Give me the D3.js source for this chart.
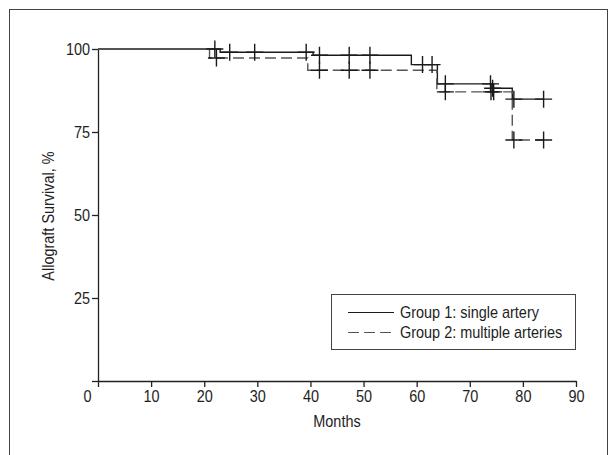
<!DOCTYPE html>
<html>
<head>
<meta charset="utf-8">
<script src="https://cdn.jsdelivr.net/npm/d3@7"></script>
<style>
  body { margin: 0; background: #fff; }
  svg text { font-family: "Liberation Sans", Arial, sans-serif; fill: #1e1e1e; }
</style>
</head>
<body>
<div id="chart"></div>
<script>
/** step data (months, % survival) */
var g1Months = [0, 23, 40.5, 59, 63.9, 74.2, 78, 83.9];
var g1Surv   = [100, 99.0, 98.1, 95.3, 89.5, 88.2, 84.9, 84.9];
var g2Months = [0, 21, 39.5, 63.8, 78, 83.9];
var g2Surv   = [100, 97.3, 93.6, 87.1, 72.6, 72.6];

/** censored observations (months) */
var g1Censor = [22.0, 24.8, 29.5, 39.2, 41.7, 47.3, 51.2, 61.1, 62.9, 65.4, 73.9, 74.3, 78.3, 83.9];
var g2Censor = [22.3, 41.7, 47.3, 51.2, 65.4, 74.0, 74.5, 78.3, 83.9];

var xTicks = [0, 10, 20, 30, 40, 50, 60, 70, 80, 90];
var yTicks = [0, 25, 50, 75, 100];
var seriesNames = ["Group 1: single artery", "Group 2: multiple arteries"];

var W = 611, H = 455;
var fs = 17;

var svg = d3.select("#chart").append("svg")
  .attr("width", W)
  .attr("height", H);

/** outer frame */
svg.append("rect")
  .attr("x", 9.5).attr("y", 9.5)
  .attr("width", 598).attr("height", 470)
  .attr("fill", "none")
  .attr("stroke", "#444")
  .attr("stroke-width", 1);

var x = d3.scaleLinear().domain([0, 90]).range([98, 576]);
var y = d3.scaleLinear().domain([0, 100]).range([381, 49]);

/** x axis */
var gx = svg.append("g")
  .attr("transform", "translate(0," + y(0) + ")")
  .call(d3.axisBottom(x).tickValues(xTicks).tickSize(6).tickSizeOuter(0));
gx.select(".domain").attr("stroke", "#222").attr("stroke-width", 1.3);
gx.selectAll(".tick line").attr("stroke", "#222").attr("stroke-width", 1.3);
gx.selectAll(".tick text")
  .attr("font-size", fs)
  .attr("y", 9)
  .attr("dx", function(d) { return d === 0 ? -11 : 0; });

/** y axis */
var gy = svg.append("g")
  .attr("transform", "translate(" + x(0) + ",0)")
  .call(d3.axisLeft(y).tickValues(yTicks).tickSize(6).tickSizeOuter(0)
    .tickFormat(function(d) { return d === 0 ? "" : d; }));
gy.select(".domain").attr("stroke", "#222").attr("stroke-width", 1.3);
gy.selectAll(".tick line").attr("stroke", "#222").attr("stroke-width", 1.3);
gy.selectAll(".tick text").attr("font-size", fs).attr("x", -8);

/** axis titles */
svg.append("text")
  .attr("x", (x(0) + x(90)) / 2)
  .attr("y", 427)
  .attr("text-anchor", "middle")
  .attr("font-size", fs)
  .text("Months");

svg.append("text")
  .attr("transform", "translate(54," + 216 + ") rotate(-90)")
  .attr("text-anchor", "middle")
  .attr("font-size", fs)
  .text("Allograft Survival, %");

/** survival curves */
var line = d3.line()
  .x(function(d) { return x(d[0]); })
  .y(function(d) { return y(d[1]); })
  .curve(d3.curveStepAfter);

function survAt(months, surv, t) {
  var i = d3.bisectRight(months, t) - 1;
  return surv[Math.max(0, i)];
}

var groups = [
  {months: g1Months, surv: g1Surv, censor: g1Censor, dash: null, colour: "#1a1a1a"},
  {months: g2Months, surv: g2Surv, censor: g2Censor, dash: "11,5", colour: "#555"}
];

groups.forEach(function(g) {
  svg.append("path")
    .datum(d3.zip(g.months, g.surv))
    .attr("d", line)
    .attr("fill", "none")
    .attr("stroke", g.colour)
    .attr("stroke-width", 1.4)
    .attr("stroke-dasharray", g.dash);
});

/** censor crosses */
var cs = 8.5;
groups.forEach(function(g) {
  svg.append("g").selectAll("path")
    .data(g.censor)
    .enter()
    .append("path")
    .attr("d", function(t) {
      var cx = x(t), cy = y(survAt(g.months, g.surv, t));
      return "M" + (cx - cs) + "," + cy + "H" + (cx + cs) +
             "M" + cx + "," + (cy - cs) + "V" + (cy + cs);
    })
    .attr("stroke", "#1a1a1a")
    .attr("stroke-width", 1.4)
    .attr("fill", "none");
});

/** legend */
var lg = svg.append("g");
lg.append("rect")
  .attr("x", 331.5).attr("y", 294.5)
  .attr("width", 244).attr("height", 55)
  .attr("fill", "#fff")
  .attr("stroke", "#444")
  .attr("stroke-width", 1);

seriesNames.forEach(function(name, i) {
  var ly = 312.5 + i * 20;
  lg.append("line")
    .attr("x1", 348).attr("x2", 394)
    .attr("y1", ly).attr("y2", ly)
    .attr("stroke", groups[i].colour)
    .attr("stroke-width", 1.2)
    .attr("stroke-dasharray", groups[i].dash);
  lg.append("text")
    .attr("x", 400).attr("y", ly)
    .attr("dy", "0.35em")
    .attr("font-size", fs)
    .text(name);
});

/** squeeze all text to a condensed look like the original figure */
svg.selectAll("text").each(function() {
  var w = this.getComputedTextLength();
  if (w > 0) {
    d3.select(this)
      .attr("textLength", w * 0.85)
      .attr("lengthAdjust", "spacingAndGlyphs");
  }
});
</script>
</body>
</html>
